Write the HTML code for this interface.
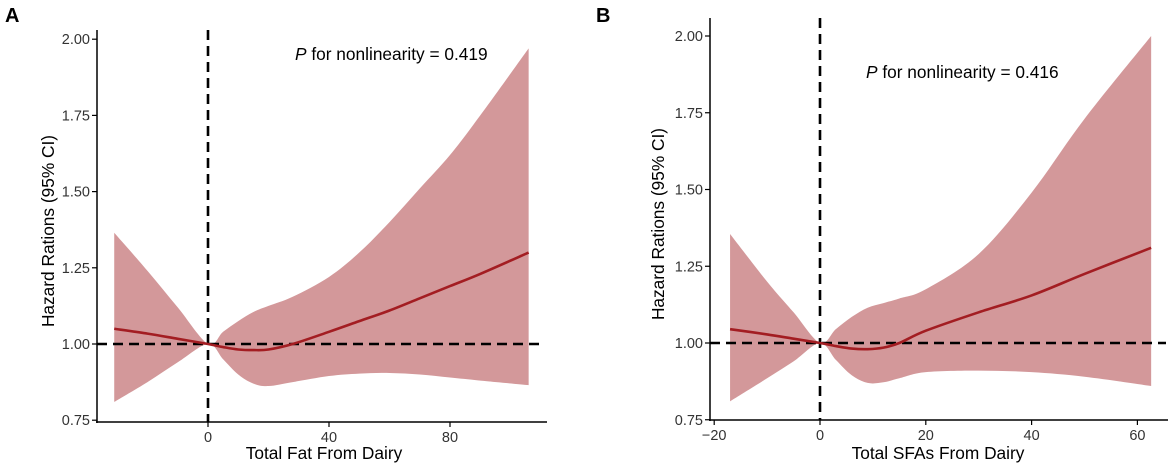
<!DOCTYPE html>
<html><head><meta charset="utf-8">
<style>
html,body{margin:0;padding:0;background:#fff;}
svg{display:block;font-family:"Liberation Sans",Arial,sans-serif;}
</style></head>
<body>
<svg id="chart" width="1170" height="468" viewBox="0 0 1170 468" xmlns="http://www.w3.org/2000/svg"></svg>
<script>
// Panel A data
const aX  = [-31, -20, -10, 0, 5, 10, 15, 20, 28, 40, 50, 60, 70, 80, 90, 106];
const aEst= [1.05, 1.034, 1.017, 1.0, 0.99, 0.982, 0.98, 0.982, 1.0, 1.04, 1.075, 1.11, 1.15, 1.19, 1.23, 1.30];
const aLo = [0.81, 0.875, 0.94, 1.0, 0.95, 0.9, 0.87, 0.862, 0.875, 0.895, 0.903, 0.905, 0.9, 0.89, 0.88, 0.865];
const aHi = [1.365, 1.24, 1.12, 1.0, 1.04, 1.075, 1.105, 1.125, 1.155, 1.22, 1.30, 1.40, 1.51, 1.62, 1.75, 1.97];
const aXTicks = [0, 40, 80];
// Panel B data
const bX  = [-17, -10, -5, 0, 3, 6, 9, 12, 15, 20, 30, 40, 50, 62.6];
const bEst= [1.045, 1.028, 1.014, 1.0, 0.99, 0.982, 0.98, 0.985, 1.0, 1.04, 1.1, 1.155, 1.225, 1.31];
const bLo = [0.81, 0.885, 0.94, 1.0, 0.945, 0.895, 0.87, 0.872, 0.885, 0.905, 0.91, 0.905, 0.89, 0.86];
const bHi = [1.355, 1.2, 1.1, 1.0, 1.045, 1.085, 1.115, 1.13, 1.145, 1.175, 1.29, 1.49, 1.73, 2.0];
const bXTicks = [-20, 0, 20, 40, 60];
const yTicks = [0.75, 1.00, 1.25, 1.50, 1.75, 2.00];
const NS = "http://www.w3.org/2000/svg";
const svg = document.getElementById('chart');
function el(tag, attrs, parent){const e=document.createElementNS(NS,tag);for(const k in attrs)e.setAttribute(k,attrs[k]);(parent||svg).appendChild(e);return e;}
function smooth(pts){
  let d="M"+pts[0][0]+","+pts[0][1];
  for(let i=0;i<pts.length-1;i++){
    const p0=pts[Math.max(0,i-1)],p1=pts[i],p2=pts[i+1],p3=pts[Math.min(pts.length-1,i+2)];
    const c1=[p1[0]+(p2[0]-p0[0])/6,p1[1]+(p2[1]-p0[1])/6];
    const c2=[p2[0]-(p3[0]-p1[0])/6,p2[1]-(p3[1]-p1[1])/6];
    d+=" C"+c1[0]+","+c1[1]+" "+c2[0]+","+c2[1]+" "+p2[0]+","+p2[1];
  }
  return d;
}
function panel(cfg){
  const g=el('g',{});
  
  
  const sx=v=>cfg.x0+(v)*cfg.kx;
  const sy=v=>cfg.y1+(v-1)*(-cfg.ky);
  const up=cfg.xs.map((x,i)=>[sx(x),sy(cfg.hi[i])]);
  const lo=cfg.xs.map((x,i)=>[sx(x),sy(cfg.lo[i])]).reverse();
  const band=el('path',{d:smooth(up)+" L"+lo[0][0]+","+lo[0][1]+smooth(lo).replace(/^M[^C]*/,' ')+" Z",fill:'#d3989a',stroke:'none'},g);
  
  
  const h=el('line',{x1:cfg.ax,x2:cfg.hEnd,y1:sy(1),y2:sy(1),stroke:'#000','stroke-width':2.6,'stroke-dasharray':'10,6'},g);
  
  
  const v=el('line',{x1:sx(0),x2:sx(0),y1:cfg.top,y2:cfg.axY,stroke:'#000','stroke-width':2.6,'stroke-dasharray':'10,6'},g);
  
  
  const ln=el('path',{d:smooth(cfg.xs.map((x,i)=>[sx(x),sy(cfg.est[i])])),fill:'none',stroke:'#a31d22','stroke-width':2.6},g);
  
  
  const ya=el('line',{x1:cfg.ax,x2:cfg.ax,y1:cfg.top,y2:cfg.axY+1,stroke:'#000','stroke-width':1.5},g);
  
  
  const xa=el('line',{x1:cfg.ax-1,x2:cfg.axEnd,y1:cfg.axY,y2:cfg.axY,stroke:'#000','stroke-width':1.5},g);
  
  
  yTicks.forEach(t=>{
    el('line',{x1:cfg.ax-5,x2:cfg.ax,y1:sy(t),y2:sy(t),stroke:'#000','stroke-width':1.2},g);
    const tx=el('text',{x:cfg.ax-7,y:sy(t)+5,'text-anchor':'end','font-size':14.5,fill:'#333'},g);
    tx.textContent=t.toFixed(2);
    
    
  });
  cfg.xt.forEach(t=>{
    el('line',{x1:sx(t),x2:sx(t),y1:cfg.axY,y2:cfg.axY+5,stroke:'#000','stroke-width':1.2},g);
    const tx=el('text',{x:sx(t),y:cfg.axY+20,'text-anchor':'middle','font-size':14.5,fill:'#333'},g);
    tx.textContent=(t<0?'\u2212'+(-t):t);
    
    
  });
  const xt=el('text',{x:cfg.xtX,y:459,'text-anchor':'middle','font-size':17.3,fill:'#000'},g);
  xt.textContent=cfg.xTitle;
  
  
  const yt=el('text',{x:0,y:0,'text-anchor':'middle','font-size':17.3,fill:'#000',transform:`translate(${cfg.ytX},${(cfg.top+cfg.axY)/2+5}) rotate(-90)`},g);
  yt.textContent='Hazard Rations (95% CI)';
  
  
  const pt=el('text',{x:cfg.pX,y:cfg.pY,'font-size':17.3,fill:'#000'},g);
  pt.innerHTML='<tspan font-style="italic">P</tspan> for nonlinearity = '+cfg.pVal;
  
  
  const lb=el('text',{x:cfg.lX,y:22,'font-size':20,'font-weight':'bold',fill:'#000'},g);
  lb.textContent=cfg.label;
  
  
}
panel({name:'panel-a',xs:aX,est:aEst,lo:aLo,hi:aHi,xt:aXTicks,x0:208,kx:3.025,y1:344,ky:304.8,ax:97,axY:422,axEnd:547,hEnd:543,top:30,
  xTitle:'Total Fat From Dairy',xtX:324,ytX:54,pX:295,pY:60,pVal:'0.419',label:'A',lX:5});
panel({name:'panel-b',xs:bX,est:bEst,lo:bLo,hi:bHi,xt:bXTicks,x0:820,kx:5.29,y1:343,ky:307,ax:710,axY:420,axEnd:1168,hEnd:1166,top:18,
  xTitle:'Total SFAs From Dairy',xtX:938,ytX:664,pX:866,pY:78,pVal:'0.416',label:'B',lX:596});
</script>
</body></html>
